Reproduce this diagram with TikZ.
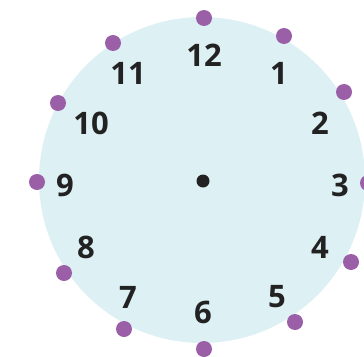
\documentclass[tikz,border=0pt]{standalone}
\usepackage{fontspec}
\setsansfont{Open Sans}
\definecolor{clockface}{HTML}{DDF0F4}
\definecolor{clockdot}{HTML}{9B5FA8}
\definecolor{clockink}{HTML}{222222}
\usetikzlibrary{positioning}

\begin{document}
\begin{tikzpicture}[x=1pt,y=-1pt,
  face/.style={circle,fill=clockface,minimum size=326pt,inner sep=0pt},
  hourdot/.style={circle,fill=clockdot,minimum size=16pt,inner sep=0pt},
  hournum/.style={font=\sffamily\bfseries\fontsize{31}{31}\selectfont,
                  text=clockink,inner sep=0pt},
  pivot/.style={circle,fill=clockink,minimum size=13pt,inner sep=0pt}
]
\useasboundingbox (0,0) rectangle (364,356);
\node[face] (face) at (202,180) {};
\node[pivot] (pivot) at (203,181) {};
% purple marks round the rim
\foreach \h/\x/\y in {12/204/18, 1/284/36, 2/344/92, 3/368/183,
                      4/351/262, 5/295/322, 6/204/349, 7/124/329,
                      8/64/273, 9/37/182, 10/58/103, 11/113/43}
  \node[hourdot] (dot\h) at (\x,\y) {};
% hour numbers
\foreach \h/\x/\y in {12/204/55, 1/279/73, 2/320/123, 3/340/185,
                      4/320/247, 5/277/297, 6/203/312, 7/128/297,
                      8/86/247, 9/65/185, 10/91/123, 11/128/73}
  \node[hournum] (num\h) at (\x,\y) {\h};
\end{tikzpicture}
\end{document}
